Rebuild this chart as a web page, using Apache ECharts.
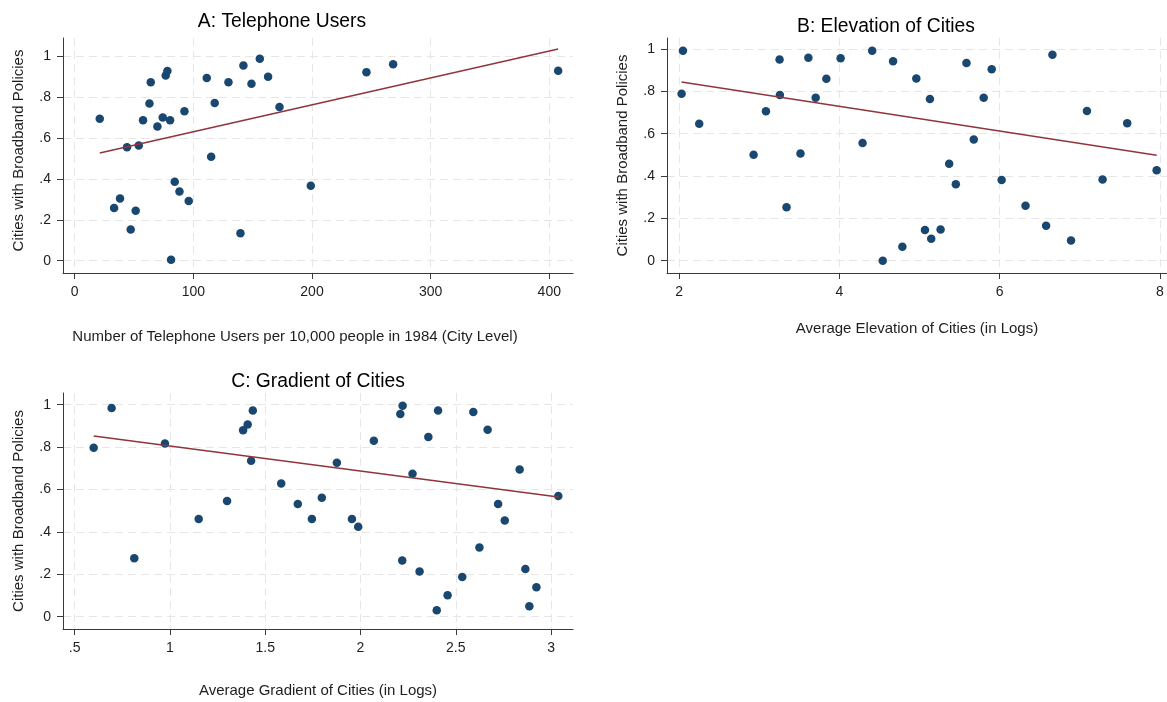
<!DOCTYPE html>
<html>
<head>
<meta charset="utf-8">
<script src="https://cdn.jsdelivr.net/npm/echarts@6/dist/echarts.min.js"></script>
<style>
  html, body { margin: 0; padding: 0; background: #fff; }
  #main { width: 1167px; height: 702px; }
</style>
</head>
<body>
<div id="main"></div>
<script>
// Panel A: telephone users per 10,000 people (1984) vs share of cities with broadband policies
var telX = [21.1, 33.2, 38.2, 44.1, 47.2, 51.4, 54.0, 57.6, 63.0, 64.1, 69.7, 74.2, 76.7, 78.1, 80.4, 81.2, 84.3,
            88.3, 92.5, 96.1, 111.3, 115.0, 118.0, 129.6, 139.7, 142.2, 149.0, 156.0, 163.0, 172.6, 199.0, 245.9, 268.4, 407.5];
var telY = [0.695, 0.258, 0.305, 0.555, 0.153, 0.245, 0.564, 0.688, 0.770, 0.873, 0.657, 0.701, 0.907, 0.928, 0.688, 0.005, 0.387,
            0.339, 0.732, 0.292, 0.894, 0.509, 0.772, 0.873, 0.134, 0.956, 0.866, 0.989, 0.900, 0.752, 0.367, 0.923, 0.961, 0.930];
var telFitX = [21.1, 407.5];
var telFitY = [0.527, 1.036];

// Panel B: average elevation (logs)
var elevX = [2.046, 2.029, 2.249, 2.928, 3.082, 3.252, 3.256, 3.339, 3.513, 3.612, 3.703, 3.836, 4.014, 4.288, 4.408, 4.540, 4.669,
             4.785, 4.959, 5.067, 5.129, 5.145, 5.262, 5.369, 5.452, 5.585, 5.676, 5.800, 5.900, 6.024, 6.322, 6.579, 6.658,
             6.890, 7.089, 7.284, 7.591, 7.959];
var elevY = [0.992, 0.789, 0.647, 0.501, 0.706, 0.950, 0.783, 0.252, 0.507, 0.959, 0.770, 0.860, 0.956, 0.556, 0.992, 0.000, 0.942,
             0.066, 0.861, 0.145, 0.764, 0.104, 0.148, 0.458, 0.361, 0.934, 0.573, 0.770, 0.904, 0.381, 0.260, 0.165, 0.973,
             0.096, 0.707, 0.384, 0.649, 0.427];
var elevFitX = [2.029, 7.959];
var elevFitY = [0.844, 0.498];

// Panel C: average gradient (logs)
var gradX = [0.600, 0.694, 0.813, 0.974, 1.151, 1.300, 1.384, 1.408, 1.435, 1.426, 1.584, 1.671, 1.745, 1.797, 1.876, 1.955, 1.988,
             2.070, 2.209, 2.221, 2.219, 2.273, 2.310, 2.356, 2.400, 2.407, 2.457, 2.534, 2.592, 2.624, 2.667, 2.722, 2.757,
             2.835, 2.865, 2.886, 2.923, 3.038];
var gradY = [0.797, 0.984, 0.276, 0.817, 0.461, 0.546, 0.879, 0.907, 0.973, 0.735, 0.628, 0.531, 0.461, 0.561, 0.726, 0.461, 0.424,
             0.830, 0.956, 0.995, 0.265, 0.674, 0.213, 0.847, 0.030, 0.973, 0.101, 0.187, 0.965, 0.326, 0.882, 0.532, 0.454,
             0.694, 0.225, 0.049, 0.139, 0.569];
var gradFitX = [0.600, 3.038];
var gradFitY = [0.852, 0.564];

// tick labels
var shareTicks = [0, 0.2, 0.4, 0.6, 0.8, 1];
var telTicks = [0, 100, 200, 300, 400];
var elevTicks = [2, 4, 6, 8];
var gradTicks = [0.5, 1, 1.5, 2, 2.5, 3];

var yName = 'Cities with Broadband Policies';
var font = '"Liberation Sans", Arial, sans-serif';
var dotColor = '#1a476f';
var fitColor = '#90353b';

function pairs(xs, ys) {
    return xs.map(function (x, i) { return [x, ys[i]]; });
}
function fmt(v) {
    var s = String(Math.round(v * 100) / 100);
    return s.replace(/^0\./, '.');
}
function makeAxis(grid, ticks, min, max, name, gap, pad) {
    return {
        type: 'value', gridIndex: grid, min: min, max: max,
        name: name, nameLocation: 'middle', nameGap: gap,
        nameTextStyle: { fontFamily: font, fontSize: 15, color: '#1e1e1e', padding: pad || 0 },
        axisLine: { show: true, onZero: false, lineStyle: { color: '#3a3a3a', width: 1 } },
        axisTick: { show: true, length: 6, customValues: ticks, lineStyle: { color: '#3a3a3a' } },
        axisLabel: { customValues: ticks, formatter: fmt, fontFamily: font, fontSize: 14, color: '#1e1e1e', margin: 12 },
        splitLine: { show: true, lineStyle: { color: '#e6e6e6', type: [8, 5], width: 1 } }
    };
}

var myChart = echarts.init(document.getElementById('main'));
var titleStyle = { fontFamily: font, fontSize: 19.3, fontWeight: 'normal', color: '#000' };
var option = {
    backgroundColor: '#ffffff',
    animation: false,
    title: [
        { text: 'A: Telephone Users', left: 277, top: 7, textAlign: 'center', textStyle: titleStyle },
        { text: 'B: Elevation of Cities', left: 881, top: 12, textAlign: 'center', textStyle: titleStyle },
        { text: 'C: Gradient of Cities', left: 313, top: 367, textAlign: 'center', textStyle: titleStyle }
    ],
    grid: [
        { left: 63, top: 38, width: 510, height: 235 },
        { left: 667, top: 38, width: 502, height: 235 },
        { left: 63, top: 393, width: 510, height: 236 }
    ],
    xAxis: [
        makeAxis(0, telTicks, -9.87, 420.0, 'Number of Telephone Users per 10,000 people in 1984 (City Level)', 56, [0, 46, 0, 0]),
        makeAxis(1, elevTicks, 1.847, 8.088, 'Average Elevation of Cities (in Logs)', 48),
        makeAxis(2, gradTicks, 0.439, 3.115, 'Average Gradient of Cities (in Logs)', 54)
    ],
    yAxis: [
        makeAxis(0, shareTicks, -0.060, 1.090, yName, 37, [0, 0, 0, 10]),
        makeAxis(1, shareTicks, -0.058, 1.052, yName, 37),
        makeAxis(2, shareTicks, -0.058, 1.055, yName, 37)
    ],
    series: [
        { type: 'scatter', xAxisIndex: 0, yAxisIndex: 0, symbolSize: 8.5, itemStyle: { color: dotColor, opacity: 1 }, data: pairs(telX, telY) },
        { type: 'line', xAxisIndex: 0, yAxisIndex: 0, symbol: 'none', lineStyle: { color: fitColor, width: 1.5 }, data: pairs(telFitX, telFitY) },
        { type: 'scatter', xAxisIndex: 1, yAxisIndex: 1, symbolSize: 8.5, itemStyle: { color: dotColor, opacity: 1 }, data: pairs(elevX, elevY) },
        { type: 'line', xAxisIndex: 1, yAxisIndex: 1, symbol: 'none', lineStyle: { color: fitColor, width: 1.5 }, data: pairs(elevFitX, elevFitY) },
        { type: 'scatter', xAxisIndex: 2, yAxisIndex: 2, symbolSize: 8.5, itemStyle: { color: dotColor, opacity: 1 }, data: pairs(gradX, gradY) },
        { type: 'line', xAxisIndex: 2, yAxisIndex: 2, symbol: 'none', lineStyle: { color: fitColor, width: 1.5 }, data: pairs(gradFitX, gradFitY) }
    ]
};
myChart.setOption(option);
</script>
</body>
</html>
